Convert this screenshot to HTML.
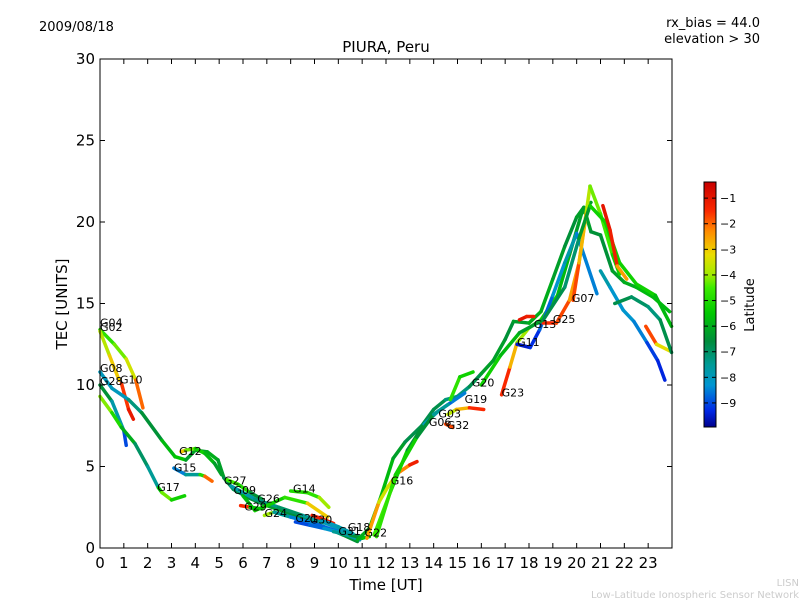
<!DOCTYPE html>
<html><head><meta charset="utf-8"><style>
body{margin:0;background:#fff;}
svg{display:block;font-family:"DejaVu Sans","Liberation Sans",sans-serif;}
</style></head><body>
<svg id="chart" width="800" height="600" viewBox="0 0 800 600">
<rect width="800" height="600" fill="#fff"/>
<text x="39" y="31" font-size="13">2009/08/18</text>
<text x="760" y="27" font-size="13" text-anchor="end">rx_bias = 44.0</text>
<text x="760" y="43" font-size="13" text-anchor="end">elevation &gt; 30</text>
<text x="386" y="52" font-size="15" text-anchor="middle">PIURA, Peru</text>
<text x="386" y="590" font-size="15" text-anchor="middle">Time [UT]</text>
<text x="67" y="304" font-size="15" text-anchor="middle" transform="rotate(-90 67 304)">TEC [UNITS]</text>
<text x="754" y="305" font-size="13" text-anchor="middle" transform="rotate(-90 754 305)">Latitude</text>
<text x="799" y="586" font-size="10" fill="#ccc" text-anchor="end">LISN</text>
<text x="799" y="598" font-size="10" fill="#ccc" text-anchor="end">Low-Latitude Ionospheric Sensor Network</text>
<g id="marks"></g>
<g id="labels"></g>
<rect x="100" y="59" width="572" height="489" fill="none" stroke="#000" stroke-width="1"/>
<g id="axes"></g>
<defs><linearGradient id="cmap" x1="0" y1="1" x2="0" y2="0"></linearGradient></defs>
<rect x="704" y="182" width="12" height="245" fill="url(#cmap)" stroke="#000"/>
<g id="cbticks"></g>
</svg>
<script>
const trackNames=["G04","G02","G10","G08","G28","G17","G15","G12","G27","G09","G26","G29","G24","G14","G21","G30","G18","G31","G22","G16","G06","G03","G32","G19","G20","G23","G11","G13","G25","G07","R1","R2","R3","R4","R5"];
const trackTimes=[
[0,0.6,1.1,1.5,1.8],
[0,0.4,0.8],
[0.9,1.2,1.4],
[0,0.5,1.2,1.75,2.6,3.15,3.6,4.0,4.5,4.95,5.2,5.6,6.2,7.0,7.8,8.6,9.4,10.2,10.8],
[0,0.5,1.0,1.1],
[0,0.5,0.9,1.47,2.0,2.45,2.6,3.0,3.55],
[3.1,3.6,4.2,4.4,4.7],
[3.4,3.6,4.0,4.4,4.8,5.1],
[5.3,5.8,6.3,6.8],
[5.5,6.5,7.5,8.5,9.5,10.5,11.0],
[6.0,6.5,7.0,7.75,8.7,9.55],
[5.9,6.3,6.8],
[6.9,7.3,8.0,9.0,10.0,10.9],
[8.0,8.7,9.2,9.6],
[8.2,8.8,9.4,10.2,11.0],
[8.9,9.3,9.8],
[9.8,10.5,11.0,11.3],
[9.3,10.0,10.6],
[10.8,11.3,11.8,12.3,12.8,13.5,14.0,14.5,15.0,15.5,16.0,16.5,17.0,17.35,18.0,18.5,19.0,19.5,20.0,20.3,20.6,21.0,21.5,22.0,22.5,23.2,23.9],
[11.2,11.7,12.1,12.5,13.0,13.3],
[11.5,12.2,12.9,13.6,14.2,14.8,15.3],
[11.6,12.4,13.3,14.0,14.6],
[14.5,14.8],
[14.6,14.95,15.5,16.1],
[14.7,15.1,15.65],
[16.85,17.2,17.5,18.0,18.5,19.2,19.7,20.2,20.6],
[17.5,18.05,18.45,19.0,19.5,20.0,20.85],
[17.6,17.9,18.2],
[18.6,19.15,19.7,20.1,20.56,21.0,21.5,21.8],
[19.85,20.1,20.4],
[16.0,16.8,17.6,18.6,19.5,20.1,20.56,21.2,21.8,22.5,23.3,23.98],
[21.1,21.4,21.7,22.1],
[21.0,21.4,21.95,22.4,22.95,23.4,23.7],
[22.9,23.35,23.9],
[21.6,22.3,23.0,23.5,23.98]
];
const trackTEC=[
[13.4,12.5,11.6,10.3,8.6],
[13.3,11.8,10.3],
[10.1,8.5,7.9],
[10.8,9.8,9.1,8.3,6.6,5.6,5.4,6.0,5.9,5.4,4.3,3.6,3.1,2.6,2.2,1.8,1.3,0.8,0.4],
[10.0,9.0,7.2,6.3],
[9.3,8.3,7.4,6.4,5.0,3.7,3.4,2.95,3.2],
[4.9,4.5,4.5,4.4,4.1],
[5.9,6.0,6.1,5.8,5.2,4.5],
[4.2,3.9,3.4,3.0],
[3.8,3.0,2.5,2.0,1.5,0.9,0.6],
[3.2,2.3,2.6,3.1,2.75,1.9],
[2.6,2.5,2.4],
[2.0,2.2,1.9,1.5,1.0,0.5],
[3.5,3.4,3.1,2.5],
[1.6,1.4,1.2,0.9,0.7],
[2.0,1.8,1.5],
[1.0,0.8,0.6,0.7],
[1.7,1.3,0.9],
[0.5,1.2,3.2,5.5,6.5,7.5,8.5,9.1,9.3,9.9,10.7,11.5,12.8,13.9,13.8,14.5,16.5,18.5,20.3,20.9,19.4,19.2,17.0,16.3,16.0,15.4,14.5],
[0.6,2.8,3.8,4.6,5.1,5.3],
[0.8,3.5,6.0,7.6,8.4,9.0,9.5],
[0.7,4.5,6.8,8.2,8.8],
[7.6,7.4],
[8.2,8.5,8.6,8.5],
[9.1,10.5,10.8],
[9.4,11.1,12.6,13.5,14.0,15.5,18.0,20.5,21.2],
[12.5,12.3,13.4,15.5,17.5,19.3,15.6],
[14.0,14.2,14.2],
[13.8,13.8,15.2,17.5,22.2,20.5,18.0,16.8],
[15.2,17.5,20.5],
[10.0,11.8,13.2,14.0,16.0,19.0,21.0,20.0,17.5,16.2,15.5,13.6],
[21.0,19.5,17.3,16.5],
[17.0,16.0,14.6,13.9,12.6,11.5,10.3],
[13.6,12.5,12.1],
[15.0,15.4,14.8,14.0,12.0]
];
const trackLat=[
[-5,-4.5,-4,-3,-1],
[-4,-3.5,-2.5],
[-2,-1.2,-1],
[-8,-8,-8,-6.5,-6.5,-5,-6,-6.5,-6,-6,-6.5,-7,-6.5,-6.5,-6,-7,-7,-7,-6],
[-6,-7,-8.5,-9.5],
[-3.8,-4.5,-5.5,-6.5,-7.5,-7.5,-3.5,-5,-5.5],
[-9,-8,-7,-3,-1],
[-2.5,-3.5,-5,-5.5,-6,-6.5],
[-5,-4,-6,-7],
[-8,-7.5,-7,-7,-8,-8,-7],
[-6,-5.5,-5,-5.5,-4,-2],
[-1,-2,-9],
[-1,-7,-8,-9,-8.5,-7],
[-5,-5,-4.5,-3.5],
[-9,-9,-8.5,-8,-7],
[-1,-1.5,-1],
[-8,-7,-6,-5],
[-8,-8,-7.5],
[-6,-6,-5.5,-6,-6.5,-7,-6.5,-7,-7.5,-7,-6.5,-6,-6.5,-6.5,-6,-6,-6,-6.5,-6.5,-6,-6.5,-6.5,-6.5,-6,-6,-5.5,-6],
[-2,-3,-4,-3,-1.5,-1],
[-4,-5,-5.5,-7.5,-8.5,-9,-8],
[-5,-4.5,-6,-7,-8],
[-2,-1.5],
[-4,-3.5,-2,-1],
[-4.5,-5,-5.5],
[-1,-2,-3.5,-4.5,-5,-5.5,-6,-6.5,-6],
[-9.5,-9.5,-9,-8.5,-8,-7.5,-9.5],
[-1,-1,-1.5],
[-1.5,-1.5,-2,-3,-4.5,-4,-5,-5.5],
[-1.5,-2,-3.5],
[-5,-5.5,-6,-6.5,-7,-7.2,-5.5,-5,-5.5,-5,-5.5,-6],
[-1,-1,-1.5,-3.5],
[-7.5,-8,-8.5,-8,-9,-9.2,-9.5],
[-1,-2.5,-4],
[-6.5,-7,-7,-7.5,-6]
];
const labelTexts=["G04","G02","G08","G28","G10","G12","G15","G17","G27","G09","G26","G29","G24","G14","G21","G30","G18","G31","G22","G16","G06","G03","G32","G19","G20","G23","G11","G13","G25","G07"];
const labelT=[0,0,0,0,0.84,3.32,3.1,2.4,5.2,5.6,6.6,6.05,6.9,8.1,8.2,8.8,10.4,10.0,11.1,12.2,13.8,14.2,14.55,15.3,15.6,16.85,17.5,18.2,19.0,19.8];
const labelTEC=[13.6,13.3,10.8,10.0,10.1,5.7,4.7,3.5,3.9,3.3,2.8,2.3,1.9,3.4,1.6,1.5,1.05,0.8,0.7,3.9,7.5,8.0,7.3,8.9,9.9,9.3,12.4,13.5,13.8,15.1];
const xTicks=[0,1,2,3,4,5,6,7,8,9,10,11,12,13,14,15,16,17,18,19,20,21,22,23];
const yTicks=[0,5,10,15,20,25,30];
const cbTicks=[-1,-2,-3,-4,-5,-6,-7,-8,-9];

const X0=100,X1=672,Y0=548,Y1=59,LATMIN=-9.94,LATMAX=-0.37;
const xs=t=>X0+t/24*(X1-X0);
const ys=v=>Y0-v/30*(Y0-Y1);
const cy=l=>427-(l-LATMIN)/(LATMAX-LATMIN)*245;
const cmapStops=[[-9.94,[0,0,140]],[-9.3,[0,40,230]],[-8.3,[0,150,210]],[-7.5,[0,155,150]],[-6.6,[0,140,60]],[-5.5,[0,200,0]],[-4.5,[60,235,0]],[-4,[160,235,0]],[-3.2,[235,220,0]],[-2.3,[255,140,0]],[-1.5,[250,40,0]],[-0.37,[200,0,0]]];
function cmap(l){
 if(l<=cmapStops[0][0])return cmapStops[0][1];
 for(let i=0;i<cmapStops.length-1;i++){const a=cmapStops[i],b=cmapStops[i+1];
  if(l<=b[0]){const f=(l-a[0])/(b[0]-a[0]);return a[1].map((c,k)=>Math.round(c+(b[1][k]-c)*f));}}
 return cmapStops[cmapStops.length-1][1];}
const col=l=>'rgb('+cmap(l).join(',')+')';
const NS="http://www.w3.org/2000/svg";
function mk(tag,attrs,parent){const e=document.createElementNS(NS,tag);for(const k in attrs)e.setAttribute(k,attrs[k]);parent.appendChild(e);return e;}
const grad=document.getElementById('cmap');
cmapStops.forEach(s=>{mk('stop',{offset:(s[0]-LATMIN)/(LATMAX-LATMIN),'stop-color':col(s[0])},grad);});
const marks=document.getElementById('marks');
trackNames.forEach((n,i)=>{
 const g=mk('g',{},marks);
 
 
 const T=trackTimes[i],V=trackTEC[i],L=trackLat[i];
 for(let k=0;k<T.length-1;k++){
  const s=mk('line',{x1:xs(T[k]),y1:ys(V[k]),x2:xs(T[k+1]),y2:ys(V[k+1]),stroke:col((L[k]+L[k+1])/2),'stroke-width':3.5,'stroke-linecap':'round'},g);
  
  
 }
});
const lab=document.getElementById('labels');
labelTexts.forEach((t,i)=>{
 const e=mk('text',{x:xs(labelT[i]),y:ys(labelTEC[i]),'font-size':11},lab);
 e.textContent=t;
 
 
});
const ax=document.getElementById('axes');
xTicks.forEach(t=>{
 const x=xs(t);
 mk('line',{x1:x,y1:Y0,x2:x,y2:Y0-5,stroke:'#000'},ax);
 mk('line',{x1:x,y1:Y1,x2:x,y2:Y1+5,stroke:'#000'},ax);
 const e=mk('text',{x:x,y:568,'font-size':15,'text-anchor':'middle'},ax);
 e.textContent=t;
 
 
});
yTicks.forEach(v=>{
 const y=ys(v);
 mk('line',{x1:X0,y1:y,x2:X0+5,y2:y,stroke:'#000'},ax);
 mk('line',{x1:X1,y1:y,x2:X1-5,y2:y,stroke:'#000'},ax);
 const e=mk('text',{x:95,y:y+5,'font-size':15,'text-anchor':'end'},ax);
 e.textContent=v;
 
 
});
const cb=document.getElementById('cbticks');
cbTicks.forEach(l=>{
 const y=cy(l);
 mk('line',{x1:704,y1:y,x2:708,y2:y,stroke:'#000'},cb);
 mk('line',{x1:716,y1:y,x2:712,y2:y,stroke:'#000'},cb);
 const e=mk('text',{x:720,y:y+4,'font-size':11},cb);
 e.textContent='\u2212'+Math.abs(l);
 
 
});
</script>
</body></html>
